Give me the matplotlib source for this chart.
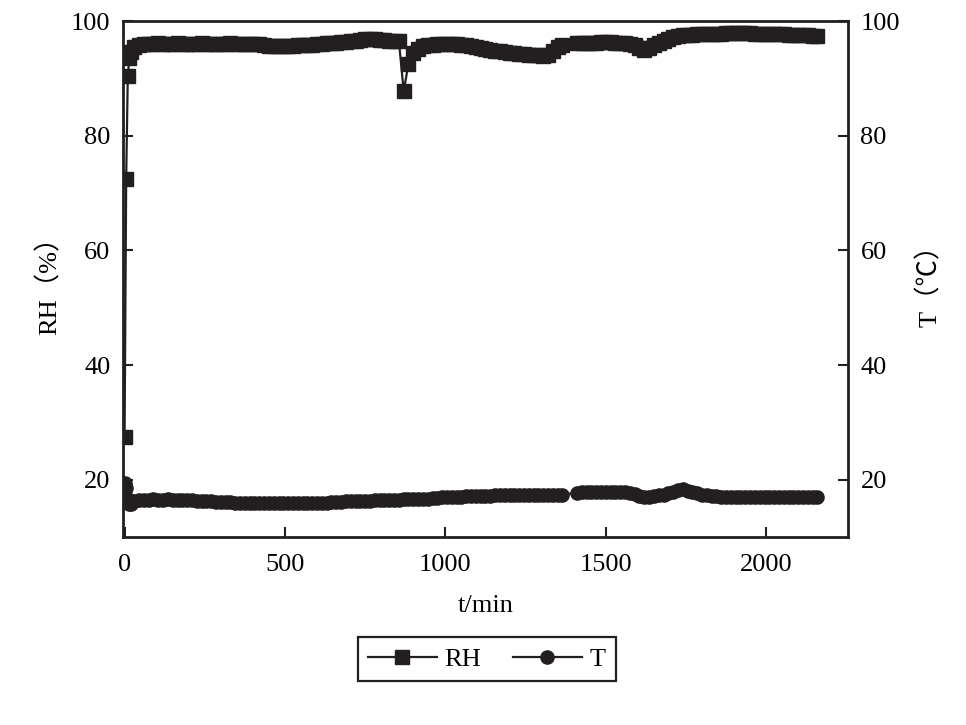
import matplotlib
matplotlib.use("Agg")
import matplotlib.pyplot as plt

# sampling times (min): a few early readings, then every 15 min, with a logging gap ~1365-1410
t_early = [0, 5, 10, 15, 20, 30]
t_a = list(range(45, 1366, 15))
t_b = list(range(1410, 2161, 15))
t = t_early + t_a + t_b

rh_early = [27.5, 72.5, 90.4, 93.5, 94.6, 95.5]
rh_a = [95.8, 96.0, 96.0, 96.0, 96.1, 96.0, 96.0, 96.0, 96.1, 96.0,   # 45-180
        96.0, 96.0, 96.0, 96.1, 96.0, 96.0, 96.0, 96.0, 96.0, 96.1,   # 195-330
        96.0, 96.0, 96.0, 96.0, 96.0, 96.0, 95.9, 95.7, 95.6, 95.6,   # 345-480
        95.6, 95.7, 95.7, 95.8, 95.8, 95.9, 95.9, 96.0, 96.0, 96.1,   # 495-630
        96.1, 96.2, 96.3, 96.4, 96.5, 96.6, 96.7, 96.8, 96.8, 96.8,   # 645-780
        96.7, 96.7, 96.6, 96.6, 96.6, 87.8, 92.5, 94.4, 95.2, 95.6,   # 795-930
        95.8, 95.9, 96.0, 96.0, 96.0, 96.0, 96.0, 95.9, 95.8, 95.7,   # 945-1080
        95.5, 95.3, 95.1, 95.0, 94.8, 94.7, 94.6, 94.5, 94.4, 94.3,   # 1095-1230
        94.2, 94.1, 94.0, 94.0, 93.9, 94.0, 94.8, 95.5, 95.9]         # 1245-1365
rh_b = [96.1, 96.1, 96.2, 96.2, 96.2, 96.3, 96.3, 96.3, 96.2, 96.2,   # 1410-1545
        96.1, 96.0, 95.8, 95.3, 95.0, 95.3, 95.8, 96.2, 96.6, 96.9,   # 1560-1695
        97.2, 97.4, 97.5, 97.6, 97.6, 97.7, 97.7, 97.7, 97.8, 97.8,   # 1710-1845
        97.8, 97.9, 97.9, 97.9, 97.9, 97.9, 97.9, 97.8, 97.8, 97.8,   # 1860-1995
        97.8, 97.7, 97.7, 97.7, 97.6, 97.6, 97.5, 97.5, 97.5, 97.4,   # 2010-2145
        97.4]                                                          # 2160
rh = rh_early + rh_a + rh_b

temp_early = [19.4, 18.5, 16.6, 15.8, 15.8, 16.2]
temp_a = [16.4, 16.5, 16.5, 16.6, 16.5, 16.5, 16.6, 16.5, 16.5, 16.5,   # 45-180
          16.4, 16.4, 16.3, 16.3, 16.2, 16.2, 16.1, 16.1, 16.1, 16.1,   # 195-330
          16.0, 16.0, 16.0, 16.0, 16.0, 16.0, 16.0, 16.0, 16.0, 16.0,   # 345-480
          16.0, 16.0, 16.0, 16.0, 16.0, 15.9, 15.9, 16.0, 16.0, 16.0,   # 495-630
          16.1, 16.1, 16.1, 16.2, 16.2, 16.2, 16.3, 16.3, 16.3, 16.4,   # 645-780
          16.4, 16.4, 16.5, 16.5, 16.5, 16.6, 16.6, 16.6, 16.6, 16.7,   # 795-930
          16.7, 16.8, 16.8, 16.9, 16.9, 17.0, 17.0, 17.0, 17.1, 17.1,   # 945-1080
          17.1, 17.2, 17.2, 17.2, 17.3, 17.3, 17.3, 17.3, 17.3, 17.3,   # 1095-1230
          17.3, 17.3, 17.4, 17.4, 17.4, 17.4, 17.4, 17.4, 17.4]         # 1245-1365
temp_b = [17.7, 17.8, 17.8, 17.9, 17.9, 17.9, 17.9, 17.9, 17.9, 17.8,   # 1410-1545
          17.8, 17.7, 17.5, 17.1, 16.9, 17.0, 17.2, 17.3, 17.4, 17.6,   # 1560-1695
          17.9, 18.2, 18.3, 18.1, 17.8, 17.6, 17.4, 17.3, 17.2, 17.1,   # 1710-1845
          17.0, 17.0, 17.0, 16.9, 16.9, 16.9, 16.9, 16.9, 16.9, 16.9,   # 1860-1995
          16.9, 16.9, 16.9, 16.9, 16.9, 16.9, 16.9, 16.9, 16.9, 16.9,   # 2010-2145
          16.9]                                                          # 2160
temp = temp_early + temp_a + temp_b

x_ticks = [0, 500, 1000, 1500, 2000]
y_ticks = [20, 40, 60, 80, 100]

ink = "#231f20"
plt.rcParams['font.family'] = ['Liberation Serif', 'Noto Sans CJK SC']
plt.rcParams['font.size'] = 19

fig = plt.figure(figsize=(9.66, 7.25), dpi=100)
ax = fig.add_axes([0.1273, 0.2593, 0.7505, 0.7117])

l1, = ax.plot(t, rh, '-s', color=ink, lw=1.6, ms=10, mfc=ink, mec=ink, label='RH')
l2, = ax.plot(t, temp, '-o', color=ink, lw=1.6, ms=9.5, mfc=ink, mec=ink, label='T')

ax.set_xlim(-5, 2255)
ax.set_ylim(10, 100)
ax.set_xticks(x_ticks)
ax.set_yticks(y_ticks)
ax.tick_params(direction='in', length=7, width=1.5, colors=ink, labelcolor='black', pad=9)
ax.tick_params(axis='x', pad=12)
for s in ax.spines.values():
    s.set_linewidth(2)
    s.set_color(ink)
ax.set_xlabel('t/min', labelpad=14)
ax.set_ylabel('RH（%）', labelpad=7)

ax2 = ax.twinx()
ax2.set_ylim(10, 100)
ax2.set_yticks(y_ticks)
ax2.tick_params(direction='in', length=7, width=1.5, colors=ink, labelcolor='black', pad=9)
for s in ax2.spines.values():
    s.set_visible(False)
ax2.set_ylabel('T（℃）', labelpad=12)

leg = fig.legend(handles=[l1, l2], loc='center', bbox_to_anchor=(0.504, 0.091),
                 ncol=2, frameon=True, fancybox=False, framealpha=1, edgecolor=ink,
                 handlelength=2.6, columnspacing=1.2, handletextpad=0.3,
                 borderpad=0.4, fontsize=19)
leg.get_frame().set_linewidth(1.6)

fig.savefig('out.png', dpi=100)
